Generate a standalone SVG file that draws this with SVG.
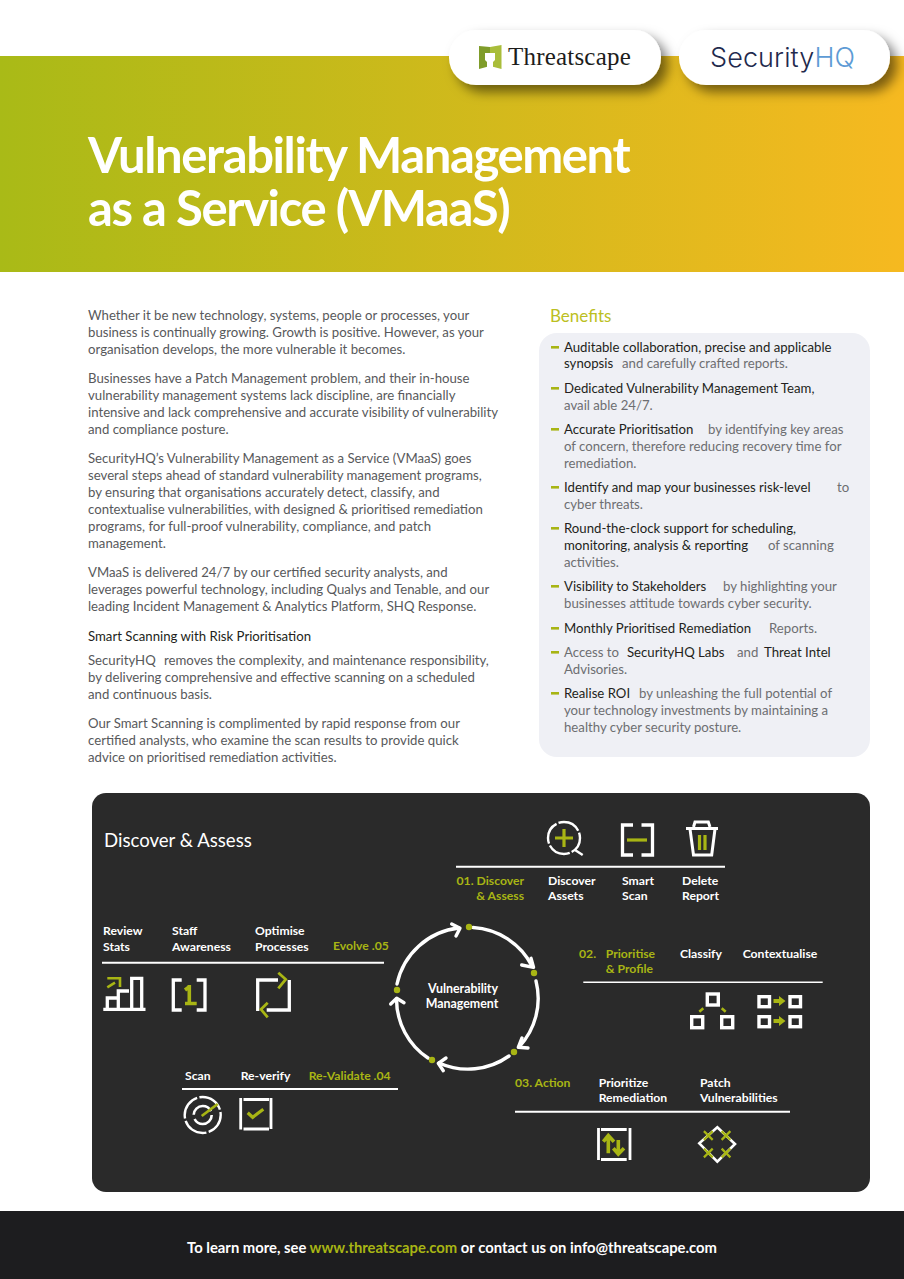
<svg xmlns="http://www.w3.org/2000/svg" width="904" height="1279" viewBox="0 0 904 1279">
<defs>
<linearGradient id="hdr" x1="0" y1="0" x2="1" y2="0"><stop offset="0" stop-color="#a9ba17"/><stop offset="1" stop-color="#f6b920"/></linearGradient>
<filter id="sh" x="-20%" y="-40%" width="150%" height="200%"><feDropShadow dx="7" dy="7" stdDeviation="6" flood-color="#000" flood-opacity="0.5"/></filter>
</defs>
<style>
text{font-family:Lato,"Liberation Sans",sans-serif}
.b{font-size:13.2px;fill:#58595b}
.d{font-size:13.2px;fill:#231f20}
.g{font-size:13.2px;fill:#6d6e71}
.l{font-size:12.2px;font-weight:700;fill:#fff}
.a{font-size:12.2px;font-weight:700;fill:#a8b514}
.w{fill:none;stroke:#fff;stroke-width:3.3}
.t{fill:none;stroke:#fff;stroke-width:2.4}
.c{fill:none;stroke:#a8b514;stroke-width:3.2}
.r{stroke:#fff;stroke-width:2}
.o{fill:none;stroke:#fff;stroke-width:3.4}
.n{fill:none;stroke:#fff;stroke-width:3.4;stroke-linecap:round;stroke-linejoin:round}
.p{fill:#a8b514}
.m{fill:#a8b514}
</style>
<rect width="904" height="1279" fill="#fff"/>
<rect y="56" width="904" height="216" fill="url(#hdr)"/>
<g id="title"><text x="88" y="173" font-size="49" font-weight="700" fill="#fff" letter-spacing="-1.4">Vulnerability Management</text>
<text x="88" y="226" font-size="49" font-weight="700" fill="#fff" letter-spacing="-1.4">as a Service (VMaaS)</text></g>
<g id="logo-threatscape"><rect x="449" y="30" width="212" height="55" rx="27" fill="#fff" filter="url(#sh)"/>
<path d="M479 46L490 47V66L479 69Z" fill="#7f9c2a"/><path d="M490 47L501.5 45V69L490 66Z" fill="#a9bd3a"/><path d="M485 53H495V60L493 62V68H487V62L485 60Z" fill="#fff"/>
<text x="508" y="65" font-size="25" letter-spacing="0.2" fill="#1d1d1b" style="font-family:'Liberation Serif',serif">Threatscape</text></g>
<g id="logo-securityhq"><rect x="679" y="30" width="211" height="55" rx="27" fill="#fff" filter="url(#sh)"/>
<text x="710" y="67" font-size="27" font-weight="300" fill="#1f2a4d" style="font-family:Inter,Lato,sans-serif" textLength="145">Security<tspan fill="#5d9bd5">HQ</tspan></text></g>
<g id="body">
<text class="b" x="88" y="320">Whether it be new technology, systems, people or processes, your</text>
<text class="b" x="88" y="337">business is continually growing. Growth is positive. However, as your</text>
<text class="b" x="88" y="354">organisation develops, the more vulnerable it becomes.</text>
<text class="b" x="88" y="383">Businesses have a Patch Management problem, and their in-house</text>
<text class="b" x="88" y="400">vulnerability management systems lack discipline, are financially</text>
<text class="b" x="88" y="417">intensive and lack comprehensive and accurate visibility of vulnerability</text>
<text class="b" x="88" y="434">and compliance posture.</text>
<text class="b" x="88" y="463">SecurityHQ’s Vulnerability Management as a Service (VMaaS) goes</text>
<text class="b" x="88" y="480">several steps ahead of standard vulnerability management programs,</text>
<text class="b" x="88" y="497">by ensuring that organisations accurately detect, classify, and</text>
<text class="b" x="88" y="514">contextualise vulnerabilities, with designed &amp; prioritised remediation</text>
<text class="b" x="88" y="531">programs, for full-proof vulnerability, compliance, and patch</text>
<text class="b" x="88" y="548">management.</text>
<text class="b" x="88" y="577">VMaaS is delivered 24/7 by our certified security analysts, and</text>
<text class="b" x="88" y="594">leverages powerful technology, including Qualys and Tenable, and our</text>
<text class="b" x="88" y="611">leading Incident Management &amp; Analytics Platform, SHQ Response.</text>
<text class="d" x="88" y="641">Smart Scanning with Risk Prioritisation</text>
<text class="b" x="88" y="665">SecurityHQ</text><text class="b" x="164" y="665">removes the complexity, and maintenance responsibility,</text>
<text class="b" x="88" y="682">by delivering comprehensive and effective scanning on a scheduled</text>
<text class="b" x="88" y="699">and continuous basis.</text>
<text class="b" x="88" y="728">Our Smart Scanning is complimented by rapid response from our</text>
<text class="b" x="88" y="745">certified analysts, who examine the scan results to provide quick</text>
<text class="b" x="88" y="762">advice on prioritised remediation activities.</text>
</g>
<g id="benefits">
<text x="550" y="322" font-size="17" fill="#bcbf22">Benefits</text>
<rect x="539" y="333" width="331" height="424" rx="18" fill="#eff0f5"/>
<g class="m"><rect x="551" y="346" width="8" height="2.6"/><rect x="551" y="387" width="8" height="2.6"/><rect x="551" y="428" width="8" height="2.6"/><rect x="551" y="486" width="8" height="2.6"/><rect x="551" y="527" width="8" height="2.6"/><rect x="551" y="585" width="8" height="2.6"/><rect x="551" y="627" width="8" height="2.6"/><rect x="551" y="651" width="8" height="2.6"/><rect x="551" y="692" width="8" height="2.6"/></g>
<text class="d" x="564" y="352">Auditable collaboration, precise and applicable</text>
<text class="d" x="564" y="368">synopsis</text><text class="g" x="622" y="368">and carefully crafted reports.</text>
<text class="d" x="564" y="393">Dedicated Vulnerability Management Team,</text>
<text class="g" x="564" y="410">avail able 24/7.</text>
<text class="d" x="564" y="434">Accurate Prioritisation</text><text class="g" x="708" y="434">by identifying key areas</text>
<text class="g" x="564" y="451">of concern, therefore reducing recovery time for</text>
<text class="g" x="564" y="468">remediation.</text>
<text class="d" x="564" y="492">Identify and map your businesses risk-level</text><text class="g" x="837" y="492">to</text>
<text class="g" x="564" y="509">cyber threats.</text>
<text class="d" x="564" y="533">Round-the-clock support for scheduling,</text>
<text class="d" x="564" y="550">monitoring, analysis &amp; reporting</text><text class="g" x="768" y="550">of scanning</text>
<text class="g" x="564" y="567">activities.</text>
<text class="d" x="564" y="591">Visibility to Stakeholders</text><text class="g" x="723" y="591">by highlighting your</text>
<text class="g" x="564" y="608">businesses attitude towards cyber security.</text>
<text class="d" x="564" y="633">Monthly Prioritised Remediation</text><text class="g" x="769" y="633">Reports.</text>
<text class="g" x="564" y="657">Access to</text><text class="d" x="627" y="657">SecurityHQ Labs</text><text class="g" x="737" y="657">and</text><text class="d" x="764" y="657">Threat Intel</text>
<text class="g" x="564" y="674">Advisories.</text>
<text class="d" x="564" y="698">Realise ROI</text><text class="g" x="639" y="698">by unleashing the full potential of</text>
<text class="g" x="564" y="715">your technology investments by maintaining a</text>
<text class="g" x="564" y="732">healthy cyber security posture.</text>
</g>
<rect id="panel" x="92" y="793" width="778" height="399" rx="14" fill="#2a2a2a"/>
<text id="panel-title" x="104" y="847" font-size="18.6" fill="#fff">Discover &amp; Assess</text>
<g id="connectors">
<path class="n" d="M473 927.5A71 71 0 0 1 532 966"/><path class="n" d="M521.7 965L533.5 967.3L531 958.3"/>
<path class="n" d="M536 981A71 71 0 0 1 519 1047"/><path class="n" d="M522 1038L518.3 1047.3L528 1048"/>
<path class="n" d="M509 1056A71 71 0 0 1 439 1063"/><path class="n" d="M446 1058L438.3 1063.3L443.3 1070.7"/>
<path class="n" d="M428 1058A71 71 0 0 1 396.5 999"/><path class="n" d="M390.7 1004L396.7 998.3L404 1002.7"/>
<path class="n" d="M397 984A71 71 0 0 1 459 928"/><path class="n" d="M451.7 924L460 928.3L456 936"/>
<g class="p"><circle cx="469" cy="927" r="3.2"/><circle cx="534" cy="973" r="3.2"/><circle cx="514" cy="1052" r="3.2"/><circle cx="432" cy="1060" r="3.2"/><circle cx="397" cy="990" r="3.2"/></g>
<text x="463" y="993" text-anchor="middle" font-size="12.4" font-weight="700" fill="#fff">Vulnerability</text>
<text x="462" y="1008" text-anchor="middle" font-size="12.4" font-weight="700" fill="#fff">Management</text>
</g>
<g id="step-01">
<line class="r" x1="456" y1="866.7" x2="725" y2="866.7"/>
<text class="a" x="524" y="885" text-anchor="end">01. Discover</text><text class="a" x="524" y="900" text-anchor="end">&amp; Assess</text>
<text class="l" x="548" y="885">Discover</text><text class="l" x="548" y="900">Assets</text>
<text class="l" x="622" y="885">Smart</text><text class="l" x="622" y="900">Scan</text>
<text class="l" x="682" y="885">Delete</text><text class="l" x="682" y="900">Report</text>
<circle class="t" cx="564" cy="838" r="16" stroke-dasharray="23 2.1" stroke-dashoffset="6"/>
<path class="c" d="M564 829V847M555 838H573"/><path class="t" d="M575 850L582.7 855"/>
<path class="w" d="M633 825H622.5V855H633M641.5 825H652.5V855H641.5"/><path class="c" d="M627 840H647"/>
<path class="t" d="M686 828.5H718M690 829L693.5 855H711.7L715 829M693.5 827L695 822H708.3L710 827" style="stroke-width:3"/>
<path class="c" d="M699.5 835V850M705 835V850"/>
</g>
<g id="step-02">
<line class="r" x1="583.3" y1="982.3" x2="822.7" y2="982.3" style="stroke-width:1.5"/>
<text class="a" x="579" y="958">02.</text><text class="a" x="605.7" y="958">Prioritise</text><text class="a" x="605.7" y="973">&amp; Profile</text>
<text class="l" x="680" y="958">Classify</text><text class="l" x="742.7" y="958">Contextualise</text>
<rect class="o" x="707.3" y="994" width="11" height="11"/><rect class="o" x="691.7" y="1016.7" width="11" height="11"/><rect class="o" x="721.7" y="1016.7" width="11" height="11"/>
<path class="c" d="M703.3 1008.3L699.3 1011.7M721.7 1008.3L725.7 1011.7" style="stroke-width:2.6"/>
<rect class="o" x="759" y="996.7" width="10.5" height="10"/><rect class="o" x="790" y="996.7" width="10.5" height="10"/><rect class="o" x="759" y="1016.7" width="10.5" height="10"/><rect class="o" x="790" y="1016.7" width="10.5" height="10"/>
<path class="p" d="M773.5 999H779V996L785.5 1001L779 1006V1003H773.5Z"/><path class="p" d="M773.5 1019H779V1016L785.5 1021L779 1026V1023H773.5Z"/>
</g>
<g id="step-03">
<line class="r" x1="515" y1="1111.7" x2="790" y2="1111.7"/>
<text class="a" x="515" y="1087">03. Action</text>
<text class="l" x="598.7" y="1087">Prioritize</text><text class="l" x="598.7" y="1102">Remediation</text>
<text class="l" x="700" y="1087">Patch</text><text class="l" x="700" y="1102">Vulnerabilities</text>
<path class="w" d="M598.5 1128V1160M630 1128V1160M601 1129.5H626.7M601 1159.5H626.7" style="stroke-width:2.8"/>
<path class="c" d="M608.3 1153.3V1136M603.3 1141.7L608.3 1135.5L614 1141.7M618.3 1140V1153M613.3 1148.3L618.3 1154L624 1148.3" style="stroke-width:3.6"/>
<path class="t" d="M717.3 1127.3L735 1144L717.3 1161.7L699.3 1143.3Z" style="stroke-width:2.6"/>
<path class="c" d="M703.9 1131.1L712.7 1139.9M703.9 1139.9L712.7 1131.1M721.6 1131.1L730.4 1139.9M721.6 1139.9L730.4 1131.1M703.9 1148.6L712.7 1157.4M703.9 1157.4L712.7 1148.6M721.6 1148.6L730.4 1157.4M721.6 1157.4L730.4 1148.6" style="stroke-width:2.2"/>
</g>
<g id="step-04">
<line class="r" x1="182" y1="1089" x2="398" y2="1089"/>
<text class="l" x="185" y="1080">Scan</text><text class="l" x="240.7" y="1080">Re-verify</text><text class="a" x="308.7" y="1080">Re-Validate .04</text>
<circle class="t" cx="202.7" cy="1115" r="18" stroke-dasharray="26 2.3" stroke-dashoffset="4"/><circle class="t" cx="202.7" cy="1115" r="9" stroke-dasharray="24 4.3" style="stroke-width:2.6"/>
<path class="c" d="M201.7 1116L217.7 1104" style="stroke-width:2.8"/>
<path class="w" d="M240.7 1098V1129.5M271 1098V1129M243.5 1099.5H269M243.5 1129H269" style="stroke-width:2.8"/>
<path class="c" d="M247.7 1112.7L252.7 1117.3L263.3 1109.3"/>
</g>
<g id="step-05">
<line class="r" x1="102" y1="962.7" x2="384" y2="962.7"/>
<text class="l" x="103" y="935">Review</text><text class="l" x="103" y="951">Stats</text>
<text class="l" x="172" y="935">Staff</text><text class="l" x="172" y="951">Awareness</text>
<text class="l" x="255" y="935">Optimise</text><text class="l" x="255" y="951">Processes</text>
<text class="a" x="333" y="950">Evolve .05</text>
<path class="w" d="M103.3 1009.3H145.5M107.3 1009V998H118.3M118.3 1009V991H129M131.7 1009V978.3H141.7V1009"/>
<path class="c" d="M107.3 978.3H120V987M107.3 987.3L115 982.7" style="stroke-width:2.6"/>
<path class="w" d="M181.7 980H173.3V1010H181.7M196.7 980H205V1010H196.7"/>
<path class="c" d="M189.3 985V1003.5M185 1003.5H196.7M185 990L189 987" style="stroke-width:3.6"/>
<path class="w" d="M278 980H257.7V1011M289.3 980V1010H266.7"/>
<path class="c" d="M278.3 972.7L285.7 979.3L278.3 988.3M267.7 1002.7L261 1009.3L267.7 1017.3" style="stroke-width:2.8"/>
</g>
<g id="footer"><rect y="1211" width="904" height="68" fill="#1d1d1f"/>
<text x="452" y="1253" text-anchor="middle" font-size="14.8" font-weight="700" fill="#fff">To learn more, see <tspan fill="#a8b514">www.threatscape.com</tspan> or contact us on info@threatscape.com</text></g>
</svg>
